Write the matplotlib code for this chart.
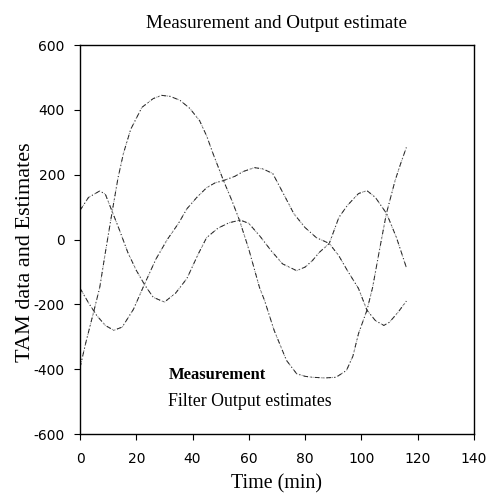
import matplotlib
matplotlib.use("Agg")
import matplotlib.pyplot as plt

plt.rcParams["axes.unicode_minus"] = False

# values (time in min, TAM data)
t_a = [0, 2, 4.7, 7, 9, 11.5, 13.5, 15.4, 18, 22, 26, 29, 32, 35.5, 39, 42.5, 45, 47.3, 51, 54,
       56.7, 60, 63.8, 65.6, 69, 73.4, 77, 80, 82.6, 87, 91, 94.7, 97, 99, 102, 104, 106.5,
       108.9, 112, 114, 116]
tam_a = [-395, -320, -228, -148, -40, 90, 190, 265, 340, 408, 435, 445, 442, 430, 405, 367, 320,
         265, 182, 120, 59, -30, -148, -188, -280, -373, -414, -422, -425, -427, -425, -404, -360,
         -290, -218, -148, -30, 80, 182, 235, 284]

t_b = [0, 3, 7, 9, 11.5, 14, 17, 20, 23, 26, 30, 34, 38, 42, 45, 49, 53, 57, 60, 64, 68, 72, 77,
       80, 82.6, 85, 88.6, 92, 95, 99, 102, 105, 109, 112.5, 116]
tam_b = [90, 130, 150, 140, 85, 30, -40, -95, -140, -178, -193, -165, -120, -45, 6, 35, 52, 60,
         50, 10, -35, -75, -96, -85, -65, -40, -12, 68, 105, 142, 151, 130, 80, 6, -86]

t_c = [0, 3, 6, 9, 12, 15, 19, 23, 27, 31, 35, 38, 41.5, 45, 48, 51, 55, 58, 62, 65, 68.5, 73,
       76, 80, 84, 88.6, 92, 95, 99, 102, 105, 108, 110, 113, 116]
tam_c = [-150, -195, -235, -265, -280, -270, -215, -136, -60, 0, 50, 95, 130, 160, 175, 182, 195,
         210, 222, 218, 204, 130, 80, 37, 6, -12, -50, -95, -151, -218, -250, -265, -255, -225, -190]

xticks = [0, 20, 40, 60, 80, 100, 120, 140]
yticks = [-600, -400, -200, 0, 200, 400, 600]

serif = "Liberation Serif"
sans = "DejaVu Sans"

fig = plt.figure(figsize=(4.88, 4.96), dpi=100)
ax = fig.add_axes([0.164, 0.125, 0.807, 0.784])

curves = [(t_a, tam_a), (t_b, tam_b), (t_c, tam_c)]
meas = None
est = None
for t, v in curves:
    meas, = ax.plot(t, v, color="0.6", lw=0.8, linestyle=(0, (1, 1.5)))
    est, = ax.plot(t, v, color="0.15", lw=0.7, linestyle=(0, (5, 3, 1, 3)))

ax.set_xlim(0, 140)
ax.set_ylim(-600, 600)
ax.set_xticks(xticks)
ax.set_yticks(yticks)
ax.tick_params(direction="out", length=4, width=0.8, labelsize=10)
ax.tick_params(axis="x", pad=9)
ax.tick_params(axis="y", pad=7)
for lab in ax.get_xticklabels() + ax.get_yticklabels():
    lab.set_family(sans)
for s in ax.spines.values():
    s.set_linewidth(1.0)

ax.set_title("Measurement and Output estimate", family=serif, fontsize=13.7, pad=12)
ax.set_xlabel("Time (min)", family=serif, fontsize=14.4, labelpad=6)
ax.set_ylabel("TAM data and Estimates", family=serif, fontsize=16)
ax.yaxis.set_label_coords(-0.115, 0.467)

leg = ax.legend([meas, est], ["Measurement", "Filter Output estimates"],
                loc="upper left", bbox_to_anchor=(0.184, 0.215), frameon=False,
                handlelength=0, handletextpad=0, labelspacing=0.55,
                prop={"family": serif, "size": 12.8})
leg.get_texts()[0].set_weight("bold")
leg.get_texts()[0].set_fontsize(12)

fig.savefig("out.png", dpi=100)
